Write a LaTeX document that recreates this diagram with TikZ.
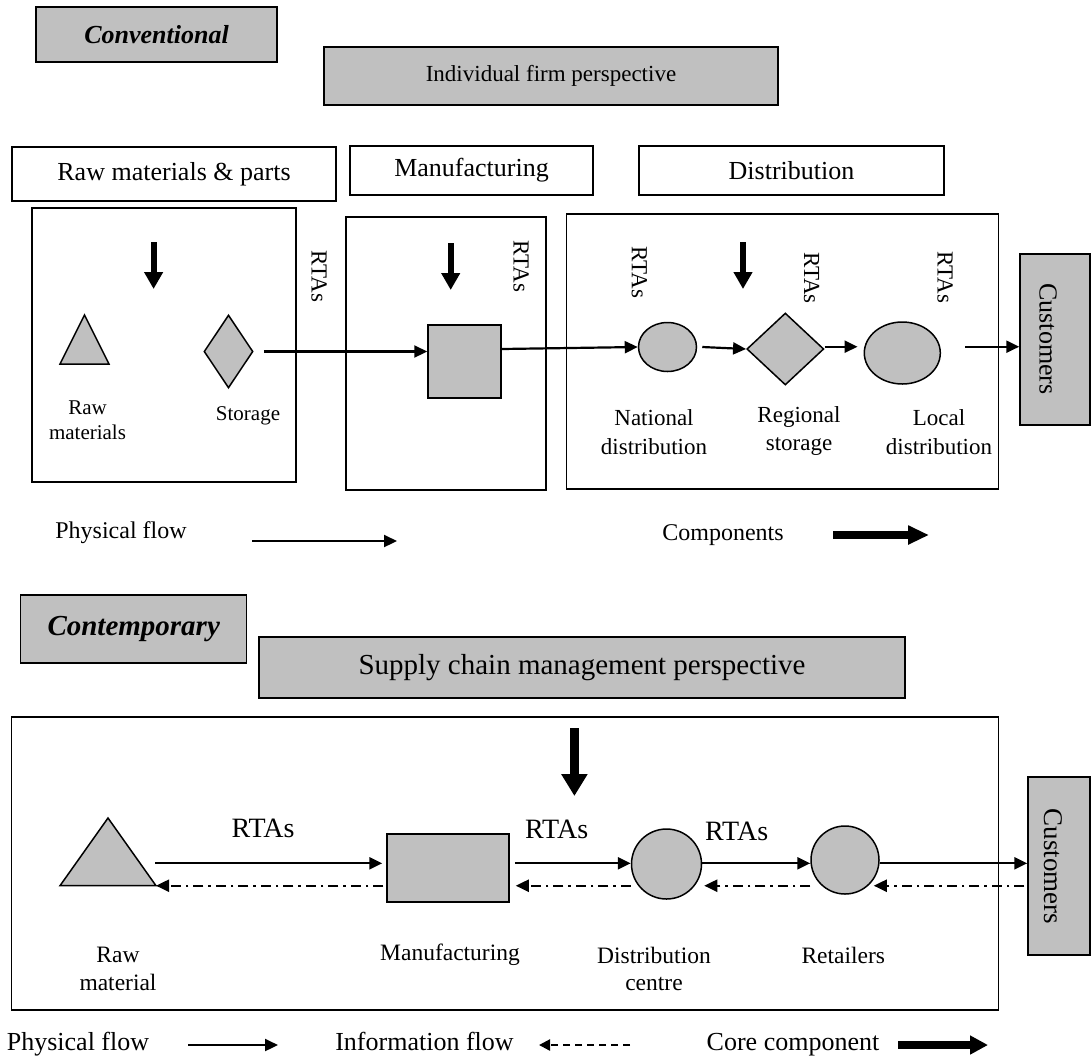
\documentclass[tikz,border=0pt]{standalone}
\usepackage{fontspec}
\setmainfont{Liberation Serif}
\usetikzlibrary{arrows.meta,shapes.geometric,calc}
\definecolor{shade}{RGB}{192,192,192}
\newcommand\fsz[2]{\fontsize{#1}{#2}\selectfont}

\tikzset{
  frame/.style={draw, line width=1.5pt, inner sep=0pt},
  graybox/.style={frame, fill=shade},
  whitebox/.style={frame, fill=white},
  solid shape/.style={draw, fill=shade, line width=1.5pt, inner sep=0pt},
  lbl/.style={inner sep=0pt, align=center},
  oneline/.style={inner sep=0pt, text height=0.68em, text depth=0.22em},
  vlbl/.style={inner sep=0pt, rotate=-90},
  phys/.style={line width=2.2pt, -{Triangle[length=13pt,width=12pt]}},
  info/.style={line width=2.2pt, dash pattern=on 10pt off 5pt on 2.5pt off 5pt,
               -{Triangle[length=13pt,width=12pt]}},
  infolegend/.style={line width=2.2pt, dash pattern=on 7pt off 5pt,
               -{Triangle[length=11pt,width=11pt]}},
  core/.style={line width=6pt, -{Triangle[length=17pt,width=18pt]}},
  bigcore/.style={line width=9pt, -{Triangle[length=22pt,width=25pt]}},
}

\begin{document}
\begin{tikzpicture}[x=1pt,y=-1pt]
\useasboundingbox (0,0) rectangle (1091,1061);

% ---------------- Conventional view ----------------
\node[graybox, minimum width=241pt, minimum height=55pt,
      font=\fsz{26}{31}\bfseries\itshape] (conv) at (156.5,34.5) {Conventional};
\node[graybox, minimum width=454pt, minimum height=58pt,
      font=\fsz{23}{28}] (ifp) at (551,76) {Individual firm perspective};

\node[whitebox, minimum width=324pt, minimum height=54pt, font=\fsz{26}{31}]
  (hraw) at (174,174) {Raw materials \& parts};
\node[whitebox, minimum width=243pt, minimum height=49pt, font=\fsz{26}{31}]
  (hman) at (471.5,170.5) {Manufacturing};
\node[whitebox, minimum width=305pt, minimum height=49pt, font=\fsz{26}{31}]
  (hdist) at (791.5,170.5) {Distribution};

% stage frames
\node[frame, minimum width=264pt, minimum height=274pt] (braw) at (164,345) {};
\node[frame, minimum width=200pt, minimum height=273pt] (bman) at (446,353.5) {};
\node[frame, minimum width=432pt, minimum height=275pt] (bdist) at (782.6,351.6) {};
\node[graybox, minimum width=70pt, minimum height=171pt] (c1) at (1055,339.5) {};
\node[vlbl, font=\fsz{26}{31}] (c1t) at (1048,339) {Customers};

% core components
\coordinate (k1a) at (153.6,242); \coordinate (k1b) at (153.6,289);
\coordinate (k2a) at (450.7,243); \coordinate (k2b) at (450.7,290);
\coordinate (k3a) at (743,242);   \coordinate (k3b) at (743,289);
\draw[core] (k1a) -- (k1b);
\draw[core] (k2a) -- (k2b);
\draw[core] (k3a) -- (k3b);

% facilities
\draw[solid shape] (60,364) -- (109,364) -- (84.5,315) -- cycle;
\node[solid shape, diamond, minimum width=49pt, minimum height=73pt] (sto) at (228.5,351.5) {};
\node[solid shape, minimum width=73pt, minimum height=73pt] (sq) at (464.5,361.5) {};
\node[solid shape, ellipse, minimum width=58pt, minimum height=49pt] (nat) at (667.5,347) {};
\node[solid shape, diamond, minimum width=77pt, minimum height=72pt] (reg) at (785.3,349) {};
\node[solid shape, ellipse, minimum width=76pt, minimum height=62pt] (loc) at (902.3,353) {};

% facility labels
\node[lbl, font=\fsz{21}{25}] (lraw) at (87.5,420.5) {Raw\\materials};
\node[lbl, font=\fsz{21}{25}] (lsto) at (248,415.7) {Storage};
\node[lbl, font=\fsz{23}{28.7}] (lnat) at (654,432.3) {National\\distribution};
\node[lbl, font=\fsz{23}{28.7}] (lreg) at (799,431) {Regional\\storage};
\node[lbl, font=\fsz{23}{28.7}] (lloc) at (939,432.3) {Local\\distribution};

% RTAs between stages
\node[vlbl, font=\fsz{23}{28}] (r1) at (319,276.5) {RTAs};
\node[vlbl, font=\fsz{23}{28}] (r2) at (521,266.5) {RTAs};
\node[vlbl, font=\fsz{23}{28}] (r3) at (639.4,272.5) {RTAs};
\node[vlbl, font=\fsz{23}{28}] (r4) at (811.6,278) {RTAs};
\node[vlbl, font=\fsz{23}{28}] (r5) at (945,277.5) {RTAs};

% physical flow
\coordinate (lv1) at (0,349);
\coordinate (lv2) at (0,346.7);
\draw[phys] ([xshift=10pt]sto.east) -- (sq.west |- sto.east);
\draw[phys] (sq.east |- lv1) -- (nat.west);
\draw[phys] ([xshift=5pt]nat.east) -- (reg.west);
\draw[phys] (reg.east |- lv2) -- ([xshift=-6pt]loc.west |- lv2);
\draw[phys] ([xshift=24pt]loc.east |- lv2) -- (c1.west |- lv2);

% legend
\node[oneline, font=\fsz{24}{29}] (leg1) at (121,536) {Physical flow};
\coordinate (lg1a) at (252,541); \coordinate (lg1b) at (397,541);
\draw[phys] (lg1a) -- (lg1b);
\node[oneline, font=\fsz{24}{29}] (leg2) at (723,538) {Components};
\coordinate (lg2a) at (833,535); \coordinate (lg2b) at (929,535);
\draw[line width=8pt, -{Triangle[length=21pt,width=18pt]}] (lg2a) -- (lg2b);

% ---------------- Contemporary view ----------------
\node[graybox, minimum width=226pt, minimum height=68pt,
      font=\fsz{29}{35}\bfseries\itshape] (cont) at (133.7,628.9) {Contemporary};
\node[graybox, minimum width=646pt, minimum height=61pt,
      font=\fsz{29}{35}] (scm) at (582,667.5) {Supply chain management perspective};

\node[frame, minimum width=987pt, minimum height=293pt] (chain) at (505.1,863.4) {};
\node[graybox, minimum width=62pt, minimum height=178pt] (c2) at (1059,866) {};
\node[vlbl, font=\fsz{27}{32}] (c2t) at (1053,866.7) {Customers};

\coordinate (kb1) at (574.4,728); \coordinate (kb2) at (574.4,796);
\draw[bigcore] (kb1) -- (kb2);

% members of the chain
\draw[solid shape] (60,885.7) -- (156,885.7) -- (108,818) -- cycle;
\coordinate (trc) at (156,885.7);
\coordinate (trs) at (155,863.3);
\node[solid shape, minimum width=122pt, minimum height=68pt] (mf) at (448,868) {};
\node[solid shape, circle, minimum size=70pt] (dc) at (666.5,864) {};
\node[solid shape, circle, minimum size=68pt] (rt) at (845,860) {};

\node[lbl, font=\fsz{23.5}{27.7}] (lrm) at (118,969) {Raw\\material};
\node[lbl, font=\fsz{23.5}{27.7}] (lmf) at (450,955) {Manufacturing};
\node[lbl, font=\fsz{23.5}{27.7}] (ldc) at (654,969) {Distribution\\centre};
\node[lbl, font=\fsz{23.5}{27.7}] (lrt) at (843.3,955) {Retailers};

\node[lbl, font=\fsz{28}{33}] (rb1) at (263,828) {RTAs};
\node[lbl, font=\fsz{28}{33}] (rb2) at (556.7,829) {RTAs};
\node[lbl, font=\fsz{28}{33}] (rb3) at (736.7,831) {RTAs};

% forward physical flow and backward information flow
\coordinate (fwd) at (0,863.3);
\coordinate (bwd) at (0,885.7);
\draw[phys] (trs) -- ([xshift=-4pt]mf.west |- fwd);
\draw[phys] ([xshift=5pt]mf.east |- fwd) -- (dc.west |- fwd);
\draw[phys] (dc.east |- fwd) -- (rt.west |- fwd);
\draw[phys] (rt.east |- fwd) -- (c2.west |- fwd);

\draw[info] ([xshift=-3pt]mf.west |- bwd) -- (trc);
\draw[info] (dc.west |- bwd) -- ([xshift=6pt]mf.east |- bwd);
\draw[info] (rt.west |- bwd) -- ([xshift=2pt]dc.east |- bwd);
\draw[info] ([xshift=-3pt]c2.west |- bwd) -- ([xshift=-6pt]rt.east |- bwd);

% legend
\node[oneline, font=\fsz{26}{31}] (lb1) at (78,1048) {Physical flow};
\coordinate (lb1a) at (188,1045); \coordinate (lb1b) at (278,1045);
\draw[phys] (lb1a) -- (lb1b);
\node[oneline, font=\fsz{26}{31}] (lb2) at (424.5,1048) {Information flow};
\coordinate (lb2a) at (630,1045); \coordinate (lb2b) at (539,1045);
\draw[infolegend] (lb2a) -- (lb2b);
\node[oneline, font=\fsz{26}{31}] (lb3) at (793,1048) {Core component};
\coordinate (lb3a) at (898,1045); \coordinate (lb3b) at (988,1045);
\draw[line width=8pt, -{Triangle[length=18pt,width=18pt]}] (lb3a) -- (lb3b);
\end{tikzpicture}
\end{document}
